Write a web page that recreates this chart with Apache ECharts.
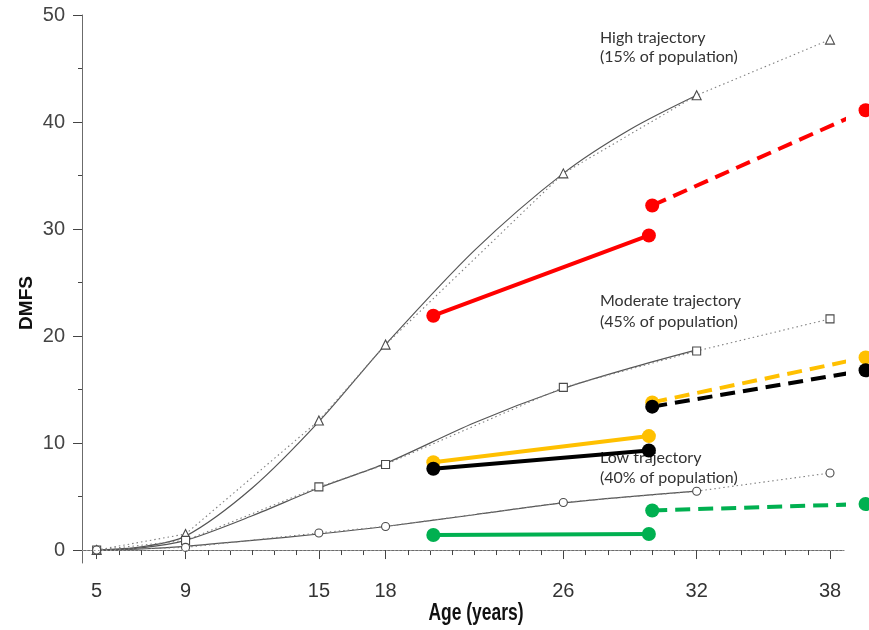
<!DOCTYPE html>
<html>
<head>
<meta charset="utf-8">
<script src="https://cdn.jsdelivr.net/npm/echarts@6/dist/echarts.min.js"></script>
<style>
html,body{margin:0;padding:0;background:#fff;}
#chart{width:869px;height:630px;}
</style>
</head>
<body>
<div id="chart"></div>
<script>
// ---- data ----
var obsAges = [5, 9, 15, 18, 26, 32, 38];
var highObs = [0, 1.5, 12.1, 19.2, 35.2, 42.5, 47.7];
var modObs  = [0, 0.9, 5.9, 8.0, 15.2, 18.6, 21.6];
var lowObs  = [0, 0.25, 1.6, 2.2, 4.45, 5.5, 7.2];

var fitAges = [5, 7, 9, 12, 15, 18, 22, 26, 29, 32];
var highFit = [0, 0.3, 1.3, 5.8, 12.0, 19.2, 28.0, 35.2, 39.3, 42.5];
var modFit  = [0, 0.2, 0.9, 3.2, 5.8, 8.1, 11.9, 15.1, 17.0, 18.7];
var lowFit  = [0, 0.1, 0.35, 0.9, 1.5, 2.2, 3.3, 4.4, 5.0, 5.5];

var pastAges   = [20.15, 29.85];
var futureAges = [30, 39.6];
var redPast      = [21.9, 29.4];
var redFuture    = [32.2, 41.1];
var yellowPast   = [8.2, 10.65];
var yellowFuture = [13.8, 18.0];
var blackPast    = [7.6, 9.3];
var blackFuture  = [13.4, 16.8];
var greenPast    = [1.4, 1.5];
var greenFuture  = [3.7, 4.3];

var xTickLabels = [5, 9, 15, 18, 26, 32, 38];
var xMinorTicks = [6, 7, 8, 10, 11, 12, 13, 14, 16, 17, 19, 20, 21, 22, 23, 24, 25, 27, 28, 29, 30, 31, 33, 34, 35, 36, 37];
var yTickLabels = [0, 10, 20, 30, 40, 50];
var yMinorTicks = [5, 15, 25, 35, 45];

var annotations = [
  'High trajectory\n(15% of population)',
  'Moderate trajectory\n(45% of population)',
  'Low trajectory\n(40% of population)'
];
var xTitle = 'Age (years)';
var yTitle = 'DMFS';

// ---- helpers ----
function zip(xs, ys) { return xs.map(function (x, i) { return [x, ys[i]]; }); }

var X_MIN = 4.34, X_MAX = 38.63, Y_MIN = -1.21, Y_MAX = 50;
var gray = '#4a4a4a';

function fitSeries(ys, extra) {
  var s = {
    type: 'line', data: zip(fitAges, ys), smooth: 0.3,
    showSymbol: false, symbol: 'none', z: 2,
    lineStyle: { color: '#555', width: 1.2 }
  };
  if (extra) { for (var k in extra) s[k] = extra[k]; }
  return s;
}
function obsSeries(ys, sym, size) {
  return {
    type: 'line', data: zip(obsAges, ys), symbol: sym, symbolSize: size, z: 3,
    lineStyle: { color: '#808080', width: 1.1, type: [1.5, 3] },
    itemStyle: { color: '#fff', borderColor: gray, borderWidth: 1.1 }
  };
}
function colSeries(xs, ys, color, dashed) {
  return {
    type: 'line', data: zip(xs, ys), clip: false, symbol: 'circle', symbolSize: 14, z: 5,
    lineStyle: { color: color, width: 4, type: dashed ? [15, 8] : 'solid' },
    itemStyle: { color: color, borderWidth: 0 }
  };
}

var baselineMark = {
  markLine: {
    silent: true, symbol: ['none', 'none'], label: { show: false },
    lineStyle: { color: '#999', width: 1, type: [1.5, 2.5] },
    data: [{ yAxis: 0 }]
  }
};

var chart = echarts.init(document.getElementById('chart'), null, { renderer: 'canvas' });
chart.setOption({
  animation: false,
  backgroundColor: '#fff',
  grid: { left: 82, right: 25, top: 15, bottom: 67, containLabel: false },
  xAxis: [{
    type: 'value', min: X_MIN, max: X_MAX, position: 'bottom',
    axisLine: { show: true, lineStyle: { color: '#6b6b6b', width: 1 } },
    axisTick: { show: true, customValues: xTickLabels, length: 9, lineStyle: { color: '#444' } },
    axisLabel: { customValues: xTickLabels, margin: 18, color: '#333',
      fontFamily: '"Liberation Sans", Arial, sans-serif', fontSize: 20 },
    splitLine: { show: false }
  }, {
    type: 'value', min: X_MIN, max: X_MAX, position: 'bottom',
    axisLine: { show: false },
    axisTick: { show: true, customValues: xMinorTicks, length: 5, lineStyle: { color: '#444' } },
    axisLabel: { show: false }, splitLine: { show: false }
  }],
  yAxis: [{
    type: 'value', min: Y_MIN, max: Y_MAX, position: 'left',
    axisLine: { show: true, lineStyle: { color: '#6b6b6b', width: 1 } },
    axisTick: { show: true, customValues: yTickLabels, length: 9, lineStyle: { color: '#444' } },
    axisLabel: { customValues: yTickLabels, margin: 17, color: '#444',
      fontFamily: '"Liberation Sans", Arial, sans-serif', fontSize: 20 },
    splitLine: { show: false }
  }, {
    type: 'value', min: Y_MIN, max: Y_MAX, position: 'left',
    axisLine: { show: false },
    axisTick: { show: true, customValues: yMinorTicks, length: 4, lineStyle: { color: '#444' } },
    axisLabel: { show: false }, splitLine: { show: false }
  }],
  graphic: [
    { type: 'text', x: 476, y: 614, scaleX: 0.76, z: 10,
      style: { text: xTitle, font: 'bold 23px "Liberation Sans", Arial, sans-serif', fill: '#111',
        align: 'center', verticalAlign: 'middle' } },
    { type: 'text', x: 27, y: 303, rotation: Math.PI / 2, z: 10,
      style: { text: yTitle, font: 'bold 19px "Liberation Sans", Arial, sans-serif', fill: '#111',
        align: 'center', verticalAlign: 'middle' } },
    { type: 'text', left: 600, top: 28, z: 0, style: { text: annotations[0], font: '16px Lato, "Open Sans", sans-serif', fill: '#333', lineHeight: 19 } },
    { type: 'text', left: 600, top: 290, z: 0, style: { text: annotations[1], font: '16px Lato, "Open Sans", sans-serif', fill: '#333', lineHeight: 21 } },
    { type: 'text', left: 600, top: 448, z: 0, style: { text: annotations[2], font: '16px Lato, "Open Sans", sans-serif', fill: '#333', lineHeight: 20 } }
  ],
  series: [
    fitSeries(highFit), fitSeries(modFit), fitSeries(lowFit, baselineMark),
    obsSeries(highObs, 'triangle', 9), obsSeries(modObs, 'rect', 8), obsSeries(lowObs, 'circle', 8),
    colSeries(pastAges, redPast, '#ff0000', false),
    colSeries(futureAges, redFuture, '#ff0000', true),
    colSeries(pastAges, yellowPast, '#ffc000', false),
    colSeries(futureAges, yellowFuture, '#ffc000', true),
    colSeries(pastAges, blackPast, '#000000', false),
    colSeries(futureAges, blackFuture, '#000000', true),
    colSeries(pastAges, greenPast, '#00b050', false),
    colSeries(futureAges, greenFuture, '#00b050', true)
  ]
});
</script>
</body>
</html>
